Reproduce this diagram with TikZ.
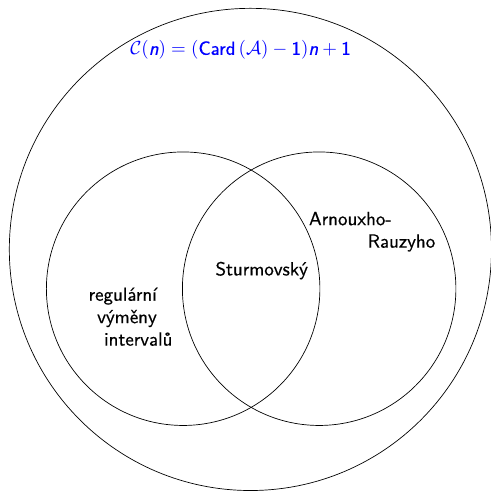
\documentclass[tikz,border=0pt]{standalone}
\usepackage{fontspec}
\setsansfont{Latin Modern Sans}[FakeBold=0.6]
\usepackage{tikz}
\usetikzlibrary{positioning}
\tikzset{set/.style={circle, draw, inner sep=0pt}}

\begin{document}
\begin{tikzpicture}[every node/.style={font=\sffamily\fontsize{11}{13}\selectfont}]
            \useasboundingbox (-5.10,-4.92) rectangle (4.90,5.08);
            \node[set, minimum size=9.82cm] (U) at (0,0) {};
            \node[set, minimum size=5.57cm] (R) at (-1.37,-0.80) {};
            \node[set, minimum size=5.57cm] (A) at (1.40,-0.80) {};
            \node[text=blue] (F) at (-0.20,4.06) {$\mathcal{C}(\textsl{n}) = (\textsf{Card}\,(\mathcal{A}) - \textsf{1})\textsl{n} + \textsf{1}$};
            \node (S) at (0.23,-0.43) {Sturmovský};
            \node[anchor=west, align=left] (AR) at (1.07,0.36) {Arnouxho-\\\hspace*{34pt}Rauzyho};
            \node[anchor=west, align=left] (IE) at (-3.42,-1.37) {regulární\\\hspace*{5pt}výměny\\\hspace*{9pt}intervalů};
        \end{tikzpicture}
\end{document}
